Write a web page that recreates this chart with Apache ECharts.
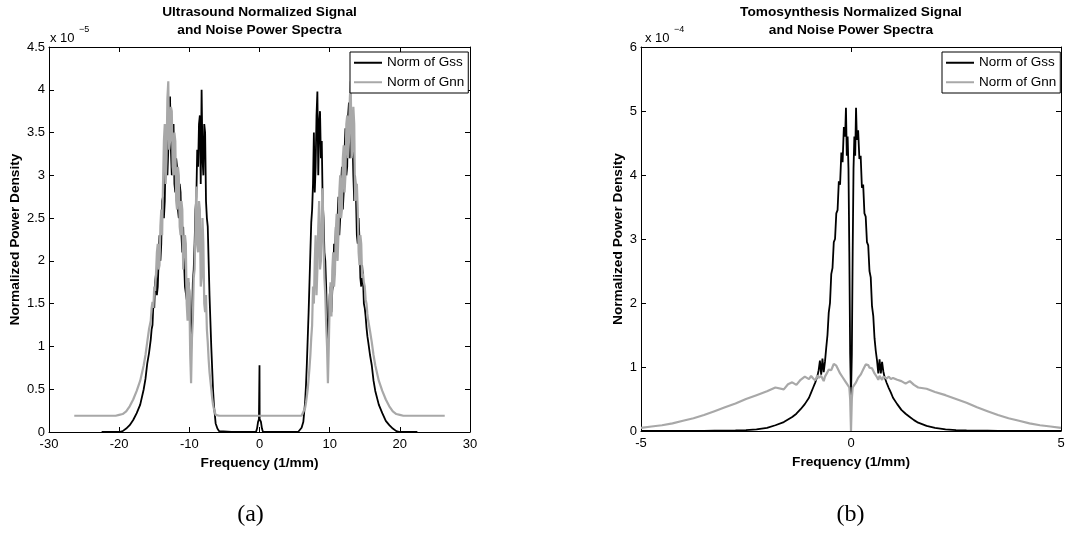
<!DOCTYPE html>
<html>
<head>
<meta charset="utf-8">
<script src="https://cdn.jsdelivr.net/npm/echarts@6/dist/echarts.min.js"></script>
<style>
html,body{margin:0;padding:0;background:#fff;}
#chart{width:1091px;height:533px;}
</style>
</head>
<body>
<div id="chart"></div>
<script>
// Panel (a): Ultrasound, values in units of 1e-5
const usFreq = [-26.4,-25,-24,-23,-22.5,-21.5,-20.5,-20,-19.5,-19,-18.5,-18,-17.5,-17,-16.5,-16.25,-16,-15.75,
  -15.5,-15.375,-15.25,-15.125,-15,-14.875,-14.75,-14.625,-14.5,-14.375,-14.25,-14.125,-14,-13.875,-13.75,-13.625,
  -13.5,-13.375,-13.25,-13.125,-13,-12.875,-12.75,-12.625,-12.5,-12.375,-12.25,-12.125,-12,-11.875,-11.75,-11.625,
  -11.5,-11.375,-11.25,-11.125,-11,-10.875,-10.75,-10.625,-10.5,-10.375,-10.25,-10.125,-10,-9.875,-9.75,-9.625,
  -9.5,-9.375,-9.25,-9.125,-9,-8.875,-8.75,-8.625,-8.5,-8.375,-8.25,-8.125,-8,-7.875,-7.75,-7.625,-7.5,-7.375,
  -7.25,-7.125,-7,-6.875,-6.75,-6.625,-6.5,
  -6.25,-6,-5.75,-5.5,-4,-2,-0.5,-0.35,-0.2,-0.08,-0.02,0,0.02,0.08,0.2,0.35,0.5,2,4,5.5,5.75,6,6.25,
  6.5,6.625,6.75,6.875,7,7.125,7.25,7.375,7.5,7.625,7.75,7.875,8,8.125,8.25,8.375,8.5,8.625,8.75,8.875,
  9,9.125,9.25,9.375,9.5,9.625,9.75,9.875,10,10.125,10.25,10.375,10.5,10.625,10.75,10.875,11,11.125,11.25,11.375,
  11.5,11.625,11.75,11.875,12,12.125,12.25,12.375,12.5,12.625,12.75,12.875,13,13.125,13.25,13.375,13.5,13.625,
  13.75,13.875,14,14.125,14.25,14.375,14.5,14.625,14.75,14.875,15,15.125,15.25,15.375,15.5,
  15.75,16,16.25,16.5,17,17.5,18,18.5,19,19.5,20,20.5,21.5,22.5,23,24,25,26.4];
const usGss = [null,null,null,null,0,0,0,0,0.01,0.04,0.08,0.14,0.22,0.32,0.5,0.62,0.8,0.92,
  1.08,1.2,1.25,1.5,1.45,1.75,1.85,1.6,1.7,2.0,
  2.3,2.0,2.2,2.7,2.75,2.5,2.7,3.3,3.5,3.0,
  3.3,3.7,3.92,3.3,3.0,3.5,3.6,2.9,2.8,3.2,
  3.1,2.6,2.5,2.9,2.8,2.3,2.1,2.4,2.0,1.7,
  1.7,1.55,1.5,1.75,1.65,1.2,0.94,1.3,1.75,1.9,
  2.2,2.6,2.75,3.3,3.1,3.6,3.7,2.9,4.0,3.2,
  3.0,3.6,3.5,2.7,2.5,2.4,2.0,1.6,1.3,1.0,
  0.75,0.5,0.32,
  0.1,0.04,0.01,0,0,0,0,0.04,0.12,0.15,0.15,0.78,0.15,0.15,0.12,0.04,0,0,0,0,0.01,0.05,0.12,
  0.35,0.55,0.8,1.1,1.4,1.75,2.1,2.45,2.6,2.9,
  3.5,2.8,3.1,3.7,3.98,3.0,3.6,3.75,3.2,3.4,
  2.7,2.5,2.1,2.0,1.7,1.3,0.95,1.3,1.6,1.7,
  1.4,1.65,1.75,2.2,2.0,2.4,2.2,2.5,2.75,2.3,
  2.5,2.9,3.1,2.6,2.8,3.3,3.55,3.0,3.1,3.7,
  3.85,3.2,3.3,3.6,3.45,3.0,2.7,3.0,2.75,2.3,
  2.2,2.5,2.25,1.8,1.7,1.95,1.8,1.5,1.45,1.35,
  1.22,1.12,1.05,
  0.9,0.78,0.6,0.48,0.32,0.22,0.13,0.08,0.04,0.01,0,0,0,0,null,null,null,null];
const usGnn = [0.19,0.19,0.19,0.19,0.19,0.19,0.19,0.2,0.21,0.24,0.3,0.38,0.48,0.6,0.78,0.9,1.05,1.2,
  1.3,1.45,1.52,1.45,1.7,1.65,1.85,2.1,2.2,1.9,
  1.95,2.4,2.6,2.3,2.9,3.4,3.6,2.9,3.2,3.9,
  4.1,3.3,3.4,3.8,3.75,3.1,3.0,3.5,3.4,2.7,
  2.6,3.1,3.0,2.4,2.3,2.7,2.6,1.9,1.9,2.3,
  2.2,1.5,1.3,1.8,1.6,0.9,0.57,1.1,1.3,1.8,
  1.9,2.4,2.87,2.2,2.1,2.7,2.6,1.7,1.8,2.5,
  2.2,1.5,1.4,1.6,1.2,1.05,0.85,0.7,0.6,0.5,
  0.4,0.32,0.27,
  0.2,0.19,0.19,0.19,0.19,0.19,0.19,0.19,0.19,0.19,0.19,0.19,0.19,0.19,0.19,0.19,0.19,0.19,0.19,0.19,0.19,0.19,0.21,
  0.28,0.34,0.42,0.5,0.62,0.75,0.9,1.1,1.25,1.7,
  1.5,2.0,2.3,1.6,1.9,2.4,2.7,1.9,2.0,2.5,
  2.85,2.2,1.8,1.6,1.25,1.0,0.57,1.0,1.5,1.75,
  1.35,1.9,2.1,1.7,1.85,2.35,2.55,2.0,2.3,2.8,
  3.0,2.5,2.6,3.2,3.35,2.8,3.0,3.6,3.7,3.2,
  3.4,3.9,4.1,3.2,3.3,3.8,3.6,2.7,2.85,2.9,
  2.6,2.1,1.95,2.3,2.2,1.8,1.85,1.75,1.7,1.55,
  1.5,1.38,1.3,
  1.18,1.05,0.9,0.78,0.6,0.48,0.38,0.3,0.24,0.21,0.2,0.19,0.19,0.19,0.19,0.19,0.19,0.19];

// Panel (b): Tomosynthesis, values in units of 1e-4
const tomoFreq = [-5,-4.75,-4.5,-4.25,-4,-3.75,-3.5,-3.25,-3,-2.75,-2.5,-2.25,-2,-1.8,-1.6,-1.5,-1.4,-1.3,-1.2,-1.1,-1,
  -0.95,-0.9,-0.85,-0.8,-0.77,-0.74,-0.71,-0.68,-0.65,-0.62,-0.59,-0.56,-0.53,-0.5,-0.47,-0.44,-0.41,-0.38,
  -0.35,-0.32,-0.29,-0.26,-0.23,-0.2,-0.17,-0.14,-0.12,-0.1,-0.08,-0.06,-0.04,-0.02,0,
  0.02,0.04,0.06,0.08,0.1,0.12,0.14,0.17,0.2,0.23,0.26,0.29,0.32,0.35,0.38,0.41,0.44,0.47,0.5,0.53,0.56,
  0.59,0.62,0.65,0.68,0.71,0.74,0.77,0.8,0.85,0.9,0.95,1,1.1,1.2,1.3,1.4,1.5,1.6,1.8,2,2.25,2.5,2.75,
  3,3.25,3.5,3.75,4,4.25,4.5,4.75,5];
const tomoGss = [0,0,0,0,0,0,0.002,0.004,0.006,0.009,0.013,0.025,0.05,0.09,0.14,0.18,0.22,0.27,0.34,0.42,0.52,
  0.6,0.68,0.76,0.86,0.95,1.1,0.88,1.13,0.92,1.08,1.3,1.5,1.85,2.0,2.45,2.55,2.95,3.0,
  3.4,3.45,3.9,3.85,4.35,4.2,4.75,4.6,5.05,4.3,4.6,4.1,2.8,1.2,0.55,
  1.2,2.8,4.1,4.6,4.3,5.05,4.55,4.7,4.25,4.3,3.8,3.85,3.4,3.35,2.95,2.9,2.5,2.4,1.95,1.8,1.45,
  1.25,1.1,0.9,1.12,0.9,1.08,0.93,0.84,0.75,0.67,0.6,0.52,0.42,0.33,0.27,0.22,0.17,0.13,0.08,0.05,0.025,0.013,0.009,
  0.006,0.004,0.002,0,0,0,0,0,0];
const tomoGnn = [0.05,0.07,0.09,0.12,0.16,0.2,0.25,0.31,0.37,0.43,0.5,0.56,0.62,0.68,0.65,0.73,0.76,0.72,0.8,0.85,0.81,
  0.86,0.82,0.79,0.87,0.83,0.8,0.86,0.82,0.78,0.85,0.88,0.92,0.96,0.98,0.95,1.0,1.05,1.07,
  1.02,0.98,0.95,0.9,0.88,0.84,0.82,0.78,0.76,0.74,0.72,0.71,0.68,0.5,0,
  0.5,0.68,0.71,0.72,0.74,0.76,0.79,0.83,0.85,0.88,0.92,0.96,1.0,1.04,1.07,1.03,0.99,0.96,0.98,0.94,0.9,
  0.87,0.84,0.8,0.86,0.83,0.8,0.85,0.86,0.82,0.85,0.81,0.83,0.8,0.78,0.74,0.78,0.72,0.68,0.66,0.61,0.56,0.5,0.44,
  0.37,0.31,0.25,0.2,0.16,0.12,0.09,0.07,0.05];

const usXTicks = {min: -30, max: 30, interval: 10};
const usYTicks = {min: 0, max: 4.5, interval: 0.5};
const tomoXTicks = {min: -5, max: 5, interval: 5};
const tomoYTicks = {min: 0, max: 6, interval: 1};

const pairs = (xs, ys) => xs.map((x, i) => [x, ys[i]]);
const FONT = '"Liberation Sans", Arial, Helvetica, sans-serif';
const GRAY = '#a8a8a8';

function xAx(grid, t, pos, name) {
  return {
    type: 'value', gridIndex: grid, position: pos, min: t.min, max: t.max, interval: t.interval,
    axisLine: {show: true, onZero: false, lineStyle: {color: '#000', width: 1}},
    axisTick: {show: true, inside: true, length: 5, lineStyle: {color: '#000'}},
    axisLabel: {show: pos === 'bottom', color: '#000', fontSize: 13, fontFamily: FONT, margin: 6},
    splitLine: {show: false},
    name: name || '', nameLocation: 'middle', nameGap: 21,
    nameTextStyle: {color: '#000', fontSize: 13.7, fontWeight: 'bold', fontFamily: FONT}
  };
}
function yAx(grid, t, pos, name, gap) {
  return {
    type: 'value', gridIndex: grid, position: pos, min: t.min, max: t.max, interval: t.interval,
    axisLine: {show: true, onZero: false, lineStyle: {color: '#000', width: 1}},
    axisTick: {show: true, inside: true, length: 5, lineStyle: {color: '#000'}},
    axisLabel: {show: pos === 'left', color: '#000', fontSize: 13, fontFamily: FONT, margin: 4},
    splitLine: {show: false},
    name: name || '', nameLocation: 'middle', nameGap: gap || 0,
    nameTextStyle: {color: '#000', fontSize: 13.7, fontWeight: 'bold', fontFamily: FONT}
  };
}
function legendAt(left) {
  return {
    data: ['Norm of Gss', 'Norm of Gnn'], orient: 'vertical', left: left, top: 52,
    icon: 'rect',
    backgroundColor: '#fff', borderColor: '#000', borderWidth: 1, borderRadius: 0,
    padding: [3, 4, 3, 4], itemGap: 4, itemWidth: 28, itemHeight: 2,
    textStyle: {color: '#000', fontSize: 13.5, fontFamily: FONT, lineHeight: 15.5}
  };
}
function line(name, xi, yi, data, color, width) {
  return {
    type: 'line', name: name, xAxisIndex: xi, yAxisIndex: yi, data: data,
    symbol: 'none', showSymbol: false, color: color,
    lineStyle: {color: color, width: width}, connectNulls: false
  };
}
function txt(x, y, text, font, align) {
  return {type: 'text', x: x, y: y, silent: true,
    style: {text: text, font: font, fill: '#000', align: align || 'center', verticalAlign: 'middle'}};
}

const chart = echarts.init(document.getElementById('chart'), null, {renderer: 'canvas'});
chart.setOption({
  animation: false,
  backgroundColor: '#fff',
  grid: [
    {left: 49, top: 47, width: 421, height: 385},
    {left: 641, top: 47, width: 420, height: 384}
  ],
  xAxis: [
    xAx(0, usXTicks, 'bottom', 'Frequency (1/mm)'),
    xAx(0, usXTicks, 'top'),
    xAx(1, tomoXTicks, 'bottom', 'Frequency (1/mm)'),
    xAx(1, tomoXTicks, 'top')
  ],
  yAxis: [
    yAx(0, usYTicks, 'left', 'Normalized Power Density', 27),
    yAx(0, usYTicks, 'right'),
    yAx(1, tomoYTicks, 'left', 'Normalized Power Density', 16),
    yAx(1, tomoYTicks, 'right')
  ],
  legend: [legendAt(350), legendAt(942)],
  series: [
    line('Norm of Gss', 0, 0, pairs(usFreq, usGss), '#000', 1.8),
    line('Norm of Gnn', 0, 0, pairs(usFreq, usGnn), GRAY, 2.2),
    line('Norm of Gss', 2, 2, pairs(tomoFreq, tomoGss), '#000', 1.8),
    line('Norm of Gnn', 2, 2, pairs(tomoFreq, tomoGnn), GRAY, 2.2)
  ],
  graphic: [
    txt(259.5, 12, 'Ultrasound Normalized Signal', 'bold 13.7px ' + FONT),
    txt(259.5, 30, 'and Noise Power Spectra', 'bold 13.7px ' + FONT),
    txt(851, 12, 'Tomosynthesis Normalized Signal', 'bold 13.7px ' + FONT),
    txt(851, 30, 'and Noise Power Spectra', 'bold 13.7px ' + FONT),
    txt(50, 38, 'x 10', '13px ' + FONT, 'left'),
    txt(79, 30, '\u22125', '9px ' + FONT, 'left'),
    txt(645, 38, 'x 10', '13px ' + FONT, 'left'),
    txt(674, 30, '\u22124', '9px ' + FONT, 'left'),
    txt(250.5, 515, '(a)', '24px "Liberation Serif", "DejaVu Serif", serif'),
    txt(850.5, 515, '(b)', '24px "Liberation Serif", "DejaVu Serif", serif')
  ]
});
</script>
</body>
</html>
